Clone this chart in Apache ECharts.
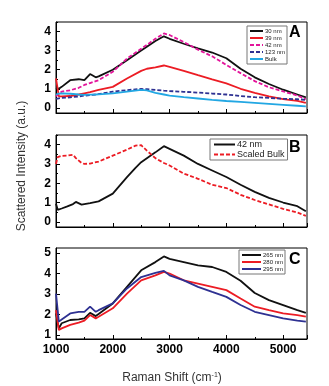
<!DOCTYPE html>
<html><head><meta charset="utf-8">
<script src="https://cdn.jsdelivr.net/npm/echarts@6/dist/echarts.min.js"></script>
<style>html,body{margin:0;padding:0;background:#fff}#c{width:329px;height:386px}</style>
</head><body><div id="c"></div>
<script>
// Panel A
const shiftA = [1000,1050,1100,1250,1400,1500,1600,1700,1750,2000,2250,2500,2600,2750,2900,3000,3250,3500,3750,4000,4250,4500,4750,5000,5250,5400];
const a30  = [1.05,1.0,1.1,1.45,1.5,1.45,1.77,1.6,1.65,2.0,2.5,3.0,3.2,3.5,3.75,3.62,3.36,3.12,2.9,2.6,2.05,1.6,1.25,0.95,0.7,0.55];
const a39  = [1.55,0.6,0.6,0.62,0.7,0.76,0.82,0.9,0.94,1.1,1.54,1.94,2.05,2.12,2.22,2.15,1.94,1.71,1.49,1.28,1.0,0.78,0.6,0.46,0.36,0.26];
const a42  = [0.6,0.75,0.85,0.92,1.05,1.2,1.3,1.4,1.45,1.89,2.58,3.1,3.3,3.62,3.9,3.82,3.45,3.05,2.7,2.25,1.82,1.4,1.08,0.86,0.65,0.45];
const a123 = [0.47,0.5,0.52,0.55,0.6,0.64,0.67,0.7,0.72,0.85,0.93,0.99,0.98,0.94,0.9,0.88,0.84,0.8,0.75,0.7,0.62,0.56,0.52,0.48,0.45,0.42];
const aBulk= [0.7,0.74,0.76,0.74,0.7,0.68,0.69,0.7,0.71,0.76,0.85,0.94,0.92,0.78,0.7,0.64,0.56,0.49,0.42,0.36,0.31,0.26,0.21,0.16,0.11,0.08];
// Panel B
const shiftB = [1000,1030,1100,1200,1300,1350,1450,1500,1600,1750,2000,2250,2400,2500,2600,2750,2900,3000,3250,3500,3750,4000,4250,4500,4750,5000,5250,5400];
const b42    = [0.94,0.62,0.69,0.8,0.92,1.03,0.89,0.92,0.97,1.06,1.46,2.32,2.8,3.09,3.3,3.6,3.92,3.78,3.43,3.0,2.66,2.32,1.92,1.55,1.24,1.0,0.81,0.55];
const bBulk  = [3.0,3.35,3.42,3.43,3.47,3.3,3.05,3.0,3.02,3.12,3.43,3.74,3.95,3.97,3.69,3.3,3.05,2.92,2.5,2.23,1.92,1.75,1.4,1.13,0.9,0.67,0.48,0.31];
// Panel C
const shiftC = [1000,1050,1100,1250,1400,1500,1600,1700,1750,2000,2250,2500,2750,2900,3000,3250,3500,3750,4000,4250,4500,4750,5000,5250,5400];
const c265 = [2.05,1.32,1.57,1.73,1.76,1.81,2.08,1.92,2.02,2.54,3.35,4.16,4.56,4.84,4.72,4.56,4.4,4.32,4.08,3.65,3.05,2.7,2.46,2.21,2.08];
const c280 = [2.21,1.24,1.32,1.49,1.6,1.7,1.97,1.81,1.89,2.3,3.02,3.67,3.91,4.08,4.0,3.67,3.51,3.35,3.19,2.78,2.38,2.21,2.05,1.97,1.89];
const c295 = [3.02,1.65,1.75,2.05,2.13,2.13,2.38,2.13,2.21,2.54,3.27,3.83,4.03,4.13,3.91,3.67,3.35,3.1,2.86,2.46,2.13,1.97,1.81,1.7,1.65];
// Ticks
const xTicks = [1000,2000,3000,4000,5000];
const yTicksAB = [0,1,2,3,4];
const yTicksC = [1,2,3,4,5];

const zip = (xs, ys) => xs.map((x, i) => [x, ys[i]]);
const FONT = 'Liberation Sans, Arial, Helvetica, sans-serif';
const grids = [
  {left:56, top:22, width:251, height:91},
  {left:56, top:135, width:251, height:92},
  {left:56, top:248, width:251, height:91}
];
const xAxes = [], yAxes = [];
grids.forEach((g, i) => {
  g.show = true; g.borderColor = '#000'; g.borderWidth = 1; g.backgroundColor = 'transparent';
  xAxes.push({type:'value', gridIndex:i, min:1000, max:5420, interval:1000,
    axisLine:{show:true, onZero:false, lineStyle:{color:'#000', width:1}},
    axisTick:{show:true, inside:true, length:4, lineStyle:{color:'#000'}},
    minorTick:{show:true, splitNumber:2, length:2, lineStyle:{color:'#000'}},
    splitLine:{show:false},
    axisLabel:{show:i===2, color:'#000', fontWeight:'bold', fontSize:12, fontFamily:FONT, margin:5,
      customValues:xTicks, formatter:(v)=>String(Math.round(v))}
  });
  const isC = i === 2;
  const lo = isC ? 0.8 : -0.27, hi = isC ? 5.25 : 4.5;
  const majors = isC ? yTicksC : yTicksAB;
  const halves = [];
  for (let v = Math.ceil(lo*2)/2; v <= hi; v += 0.5) halves.push(v);
  yAxes.push({type:'value', gridIndex:i, min:lo, max:hi,
    axisLine:{show:true, onZero:false, lineStyle:{color:'#000'}},
    axisTick:{show:true, inside:true, length:4, customValues:majors, lineStyle:{color:'#000'}},
    splitLine:{show:false},
    axisLabel:{show:true, customValues:majors, color:'#000', fontWeight:'bold', fontSize:12, fontFamily:FONT, margin:5}
  });
  yAxes.push({type:'value', gridIndex:i, min:lo, max:hi, position:'left',
    axisLine:{show:false},
    axisTick:{show:true, inside:true, length:2, customValues:halves, lineStyle:{color:'#000'}},
    splitLine:{show:false}, axisLabel:{show:false}
  });
});

function line(name, xi, yi, xs, ys, color, width, dashed) {
  return {type:'line', name, xAxisIndex:xi, yAxisIndex:yi, data:zip(xs, ys),
    showSymbol:false, symbol:'none', smooth:false, animation:false,
    lineStyle:{color, width, type: dashed ? [4,2] : 'solid'}, itemStyle:{color}};
}
const RED = '#ec1c24', BLK = '#111111', MAG = '#e3159b', NAVY = '#2e3192', LBLUE = '#22a7e3', BLUE = '#2e3192';
const series = [
  line('30 nm', 0, 0, shiftA, a30, BLK, 1.8, false),
  line('39 nm', 0, 0, shiftA, a39, RED, 1.8, false),
  line('42 nm', 0, 0, shiftA, a42, MAG, 1.8, true),
  line('123 nm', 0, 0, shiftA, a123, NAVY, 1.8, true),
  line('Bulk', 0, 0, shiftA, aBulk, LBLUE, 1.8, false),
  line('42 nm ', 1, 2, shiftB, b42, BLK, 1.8, false),
  line('Scaled Bulk', 1, 2, shiftB, bBulk, RED, 1.8, true),
  line('265 nm', 2, 4, shiftC, c265, BLK, 1.8, false),
  line('280 nm', 2, 4, shiftC, c280, RED, 1.8, false),
  line('295 nm', 2, 4, shiftC, c295, BLUE, 1.8, false)
];
const legBase = {orient:'vertical', borderColor:'#777', borderWidth:1, backgroundColor:'#fff', selectedMode:false, itemGap:1,
  icon:'inherit', itemStyle:{opacity:0}};
const legends = [
  Object.assign({}, legBase, {left:247, top:26, padding:[2,2], itemWidth:13, itemHeight:6,
    data:['30 nm','39 nm','42 nm','123 nm','Bulk'], textStyle:{fontSize:6, color:'#222', fontFamily:FONT, padding:[0,0,0,-3]}}),
  Object.assign({}, legBase, {left:210, top:139, padding:[1,3], itemWidth:21, itemHeight:9, itemGap:1,
    data:['42 nm ','Scaled Bulk'], textStyle:{fontSize:9, color:'#222', fontFamily:FONT, padding:[0,0,0,-3]}}),
  Object.assign({}, legBase, {left:239, top:250, padding:[2,2], itemWidth:19, itemHeight:7, itemGap:1,
    data:['265 nm','280 nm','295 nm'], textStyle:{fontSize:6, color:'#222', fontFamily:FONT, padding:[0,0,0,-3]}})
];
const chart = echarts.init(document.getElementById('c'), null, {renderer:'canvas'});
chart.setOption({
  animation:false,
  grid:grids, xAxis:xAxes, yAxis:yAxes, series, legend:legends,
  graphic:[
    {type:'text', left:289, top:25, style:{text:'A', font:'bold 16px '+FONT, fill:'#000'}},
    {type:'text', left:289, top:140, style:{text:'B', font:'bold 16px '+FONT, fill:'#000'}},
    {type:'text', left:289, top:252, style:{text:'C', font:'bold 16px '+FONT, fill:'#000'}},
    {type:'text', x:22, y:166, rotation:Math.PI/2, style:{text:'Scattered Intensity (a.u.)', font:'12px '+FONT, fill:'#333', align:'center', verticalAlign:'middle'}},
    {type:'text', x:172, y:378, style:{text:'Raman Shift (cm{s|-1})', font:'12px '+FONT, fill:'#333', align:'center', verticalAlign:'middle',
      rich:{s:{fontSize:7, verticalAlign:'top', padding:[0,0,6,0], fill:'#333', fontFamily:FONT}}}}
  ]
});
</script></body></html>
